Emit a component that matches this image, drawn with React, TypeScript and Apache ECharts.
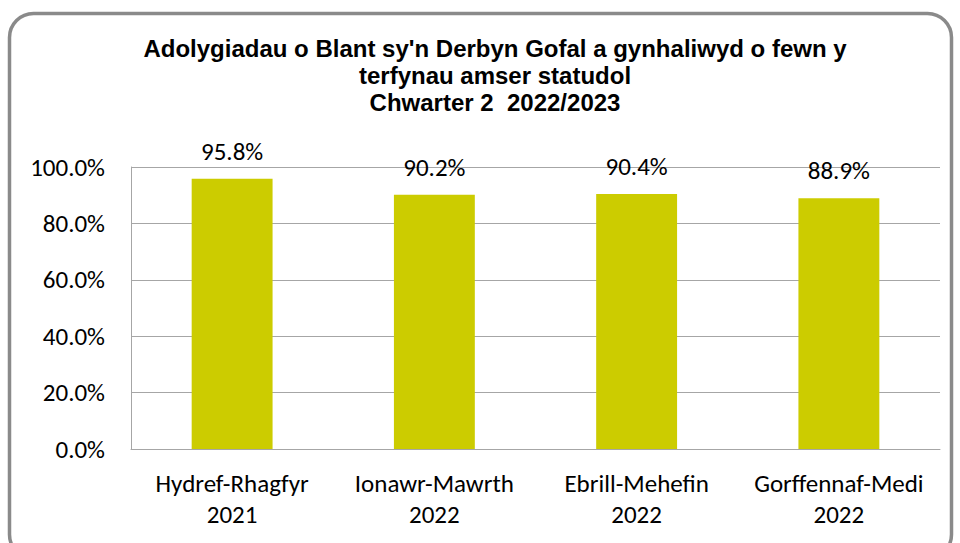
import React, { useEffect, useRef } from "react";
import * as echarts from "echarts";

const titleLines = [
  "Adolygiadau o Blant sy'n Derbyn Gofal a gynhaliwyd o fewn y",
  "terfynau amser statudol",
  "Chwarter 2  2022/2023",
];
const categories = [
  "Hydref-Rhagfyr\n2021",
  "Ionawr-Mawrth\n2022",
  "Ebrill-Mehefin\n2022",
  "Gorffennaf-Medi\n2022",
];
const values = [95.8, 90.2, 90.4, 88.9];

const bodyFont = "Carlito, Lato, 'Liberation Sans', sans-serif";

export default function App() {
  const ref = useRef<HTMLDivElement>(null);
  useEffect(() => {
    if (!ref.current) return;
    const chart = echarts.init(ref.current, undefined, { renderer: "svg" });
    chart.setOption({
      animation: false,
      backgroundColor: "#ffffff",
      graphic: [
        {
          type: "rect",
          shape: { x: 9.5, y: 13.5, width: 942, height: 545, r: 24 },
          style: { fill: "none", stroke: "#8a8a8a", lineWidth: 3.5 },
          z: -1,
        },
      ],
      title: {
        text: titleLines.join("\n"),
        left: 490,
        textAlign: "center",
        top: 30,
        textStyle: {
          fontFamily: "'Liberation Sans Narrow', 'Arial Narrow', 'Liberation Sans', sans-serif",
          fontWeight: "bold",
          fontSize: 24,
          lineHeight: 27,
          color: "#000",
        },
      },
      grid: { left: 131, right: 20, top: 167, bottom: 94 },
      xAxis: {
        type: "category",
        data: categories,
        axisLine: { show: true, lineStyle: { color: "#a6a6a6", width: 1 } },
        axisTick: { show: false },
        axisLabel: {
          fontFamily: bodyFont,
          fontSize: 25,
          color: "#000",
          lineHeight: 31,
          margin: 19,
          interval: 0,
        },
      },
      yAxis: {
        type: "value",
        min: 0,
        max: 100,
        interval: 20,
        axisLine: { show: true, lineStyle: { color: "#a6a6a6", width: 1 } },
        axisTick: { show: false },
        splitLine: { show: true, lineStyle: { color: "#a6a6a6", width: 1 } },
        axisLabel: {
          fontFamily: bodyFont,
          fontSize: 25,
          color: "#000",
          margin: 26,
          formatter: (v: number) => v.toFixed(1) + "%",
        },
      },
      series: [
        {
          type: "bar",
          data: values,
          barWidth: "40%",
          itemStyle: { color: "#cccc00" },
          label: {
            show: true,
            position: "top",
            distance: 15,
            fontFamily: bodyFont,
            fontSize: 25,
            color: "#000",
            formatter: (p: any) => p.value.toFixed(1) + "%",
          },
        },
      ],
    });
    return () => chart.dispose();
  }, []);
  return (
    <div
      ref={ref}
      style={{ position: "fixed", left: 0, top: 0, width: 960, height: 543 }}
    />
  );
}
